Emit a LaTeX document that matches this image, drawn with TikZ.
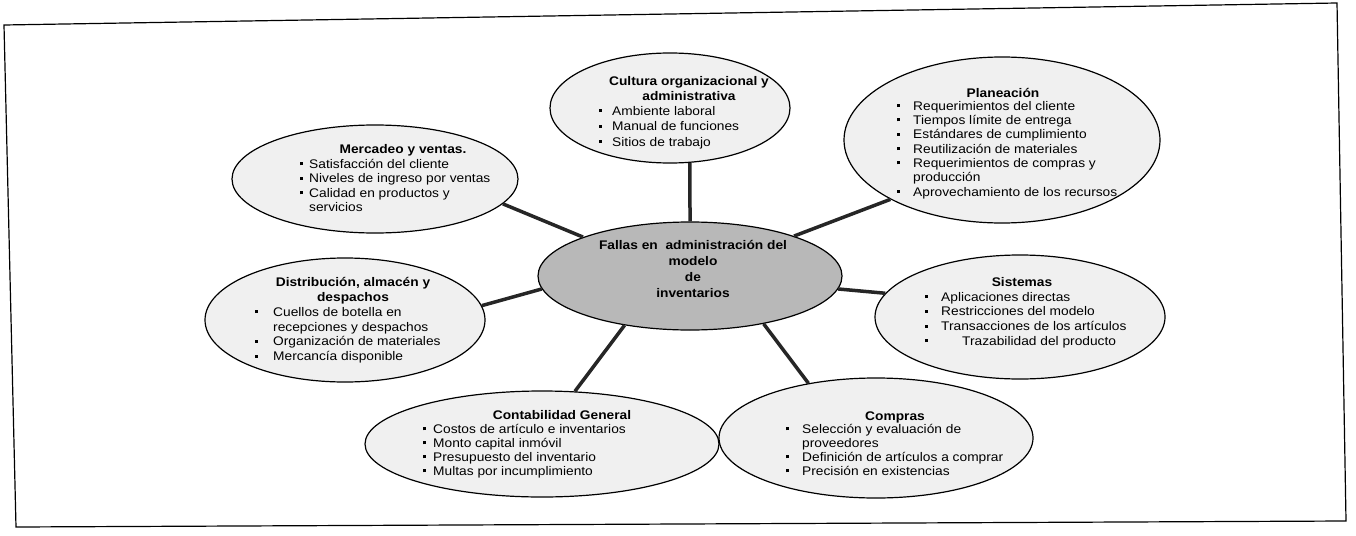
\documentclass[tikz,border=0pt]{standalone}
\usepackage{fontspec}
\setmainfont{Liberation Sans}[FakeStretch=1.1]
\usetikzlibrary{shapes.geometric}
\newlength{\bulw}
\newcommand{\bul}{\makebox[\bulw][l]{\rule[0.25em]{3pt}{3pt}}}
\newcommand{\ind}{\hspace*{\bulw}}

\begin{document}
\begin{tikzpicture}[x=1pt, y=-1pt,
  font=\fontsize{12.5}{14.5}\selectfont,
  bubble/.style={draw, ellipse, line width=1.2pt, fill=black!6, inner sep=0pt},
  hub/.style={bubble, fill=black!28},
  link/.style={line width=3.5pt, black!85},
  head/.style={font=\fontsize{12.5}{15}\selectfont\bfseries, align=center, inner sep=0pt},
  items/.style={anchor=north west, align=left, inner sep=0pt,
    execute at begin node={\setlength{\bulw}{#1}}},
  items/.default=16pt]

\useasboundingbox (0,0) rectangle (1356,535);
\draw[line width=1.2pt] (4,25) -- (1337,3) -- (1346,521) -- (16,527) -- cycle;

\node[bubble, minimum width=240, minimum height=110] (cul) at (670,108) {};
\node[bubble, minimum width=316, minimum height=166] (pla) at (1002,140) {};
\node[bubble, minimum width=286, minimum height=108] (mer) at (375,179) {};
\node[hub,    minimum width=304, minimum height=108] (cen) at (690,276) {};
\node[bubble, minimum width=280, minimum height=124] (dis) at (345,320) {};
\node[bubble, minimum width=290, minimum height=124] (sis) at (1020,317) {};
\node[bubble, minimum width=314, minimum height=120] (com) at (876,438) {};
\node[bubble, minimum width=354, minimum height=106] (con) at (542,444) {};

\draw[link] (cen.north) -- (cul.290);
\draw[link] (cen.21)  -- (pla.208);
\draw[link] (cen.160) -- (mer.349);
\draw[link] (cen.185) -- (dis.6);
\draw[link] (cen.355) -- (sis.170);
\draw[link] (cen.327) -- (com.141);
\draw[link] (cen.217) -- (con.58);

\node[head, font=\fontsize{12.5}{16}\selectfont\bfseries] (cen-h) at (693,269)
  {Fallas en\ \ administración del\\modelo\\de\\inventarios};

\node[head] (cul-h) at (689,89) {Cultura organizacional y\\administrativa};
\node[items=13pt, font=\fontsize{12.5}{15.5}\selectfont] (cul-l) at (599,106)
  {\bul Ambiente laboral\\\bul Manual de funciones\\\bul Sitios de trabajo};

\node[head] (pla-h) at (1003,93) {Planeación};
\node[items, font=\fontsize{12.5}{14.3}\selectfont] (pla-l) at (897,101)
  {\bul Requerimientos del cliente\\\bul Tiempos límite de entrega\\
   \bul Estándares de cumplimiento\\\bul Reutilización de materiales\\
   \bul Requerimientos de compras y\\\ind producción\\
   \bul Aprovechamiento de los recursos};

\node[head] (mer-h) at (403,150) {Mercadeo y ventas.};
\node[items=9pt] (mer-l) at (300,159)
  {\bul Satisfacción del cliente\\\bul Niveles de ingreso por ventas\\
   \bul Calidad en productos y\\\ind servicios};

\node[head] (dis-h) at (353,290.5) {Distribución, almacén y\\despachos};
\node[items=18pt, font=\fontsize{12.5}{14.8}\selectfont] (dis-l) at (255,307)
  {\bul Cuellos de botella en\\\ind recepciones y despachos\\
   \bul Organización de materiales\\\bul Mercancía disponible};

\node[head] (sis-h) at (1022,282) {Sistemas};
\node[items, font=\fontsize{12.5}{14.7}\selectfont] (sis-l) at (925,292)
  {\bul Aplicaciones directas\\\bul Restricciones del modelo\\
   \bul Transacciones de los artículos\\\bul\hspace{21pt}Trazabilidad del producto};

\node[head] (com-h) at (895,417) {Compras};
\node[items, font=\fontsize{12.5}{14}\selectfont] (com-l) at (786,424)
  {\bul Selección y evaluación de\\\ind proveedores\\
   \bul Definición de artículos a comprar\\\bul Precisión en existencias};

\node[head] (con-h) at (562,415) {Contabilidad General};
\node[items=10pt, font=\fontsize{12.5}{14}\selectfont] (con-l) at (423,424)
  {\bul Costos de artículo e inventarios\\\bul Monto capital inmóvil\\
   \bul Presupuesto del inventario\\\bul Multas por incumplimiento};

\end{tikzpicture}
\end{document}
